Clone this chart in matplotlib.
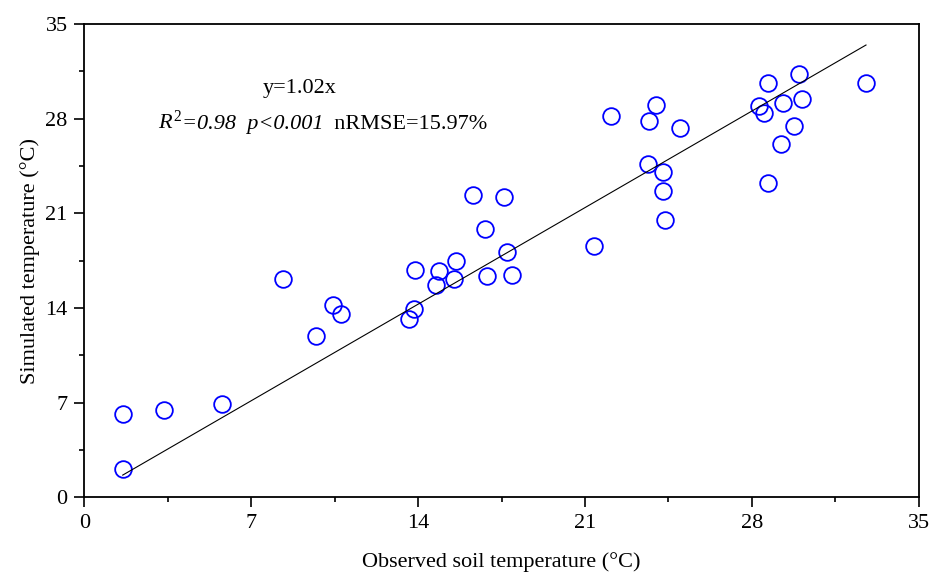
import matplotlib
matplotlib.use("Agg")
import matplotlib.pyplot as plt
import numpy as np
from matplotlib.ticker import MultipleLocator

plt.rcParams['font.family'] = ['Liberation Serif', 'DejaVu Serif']
plt.rcParams['mathtext.fontset'] = 'custom'
plt.rcParams['mathtext.rm'] = 'Liberation Serif'
plt.rcParams['mathtext.it'] = 'Liberation Serif:italic'

observed = [1.61, 1.61, 3.34, 5.76,
            8.35, 10.43, 10.76, 9.73,
            16.32, 17.59, 16.82, 17.73, 15.59, 13.88, 14.87, 15.49, 14.74,
            16.89, 17.95, 13.83, 13.63,
            22.09, 23.99, 23.69, 24.98, 23.66, 24.29, 24.29, 24.36, 21.38,
            28.69, 29.98, 32.79, 28.30, 28.50, 29.30, 30.09, 29.78, 29.24, 28.69]
simulated = [6.17, 2.07, 6.48, 6.88,
             16.14, 14.23, 13.52, 11.92,
             22.32, 22.23, 19.84, 18.13, 17.51, 16.82, 16.75, 16.14, 15.69,
             16.33, 16.43, 13.94, 13.18,
             28.22, 29.04, 27.85, 27.31, 24.62, 24.03, 22.62, 20.53, 18.55,
             30.64, 31.33, 30.64, 28.91, 28.42, 29.16, 29.46, 27.43, 26.13, 23.24]
slope = 1.02
ticks = [0, 7, 14, 21, 28, 35]

fig = plt.figure(figsize=(9.34, 5.74), dpi=100)
ax = fig.add_axes([0.0903, 0.1336, 0.8933, 0.8246])

ax.plot(observed, simulated, linestyle='none', marker='o', markersize=12,
        markerfacecolor='none', markeredgecolor='#0000ff', markeredgewidth=1.3)
xl = np.array([min(observed), max(observed)])
ax.plot(xl, slope * xl, color='black', linewidth=0.8)

ax.set_xlim(0, 35)
ax.set_ylim(0, 35)
ax.set_xticks(ticks)
ax.set_yticks(ticks)
ax.xaxis.set_minor_locator(MultipleLocator(3.5))
ax.yaxis.set_minor_locator(MultipleLocator(3.5))
ax.tick_params(which='major', direction='out', length=7, width=1.2, labelsize=16, pad=5)
ax.tick_params(which='minor', direction='out', length=3.6, width=1.2)
ax.tick_params(top=False, right=False, which='both')
for s in ax.spines.values():
    s.set_linewidth(1.3)

ax.set_xlabel('Observed soil temperature (°C)', fontsize=16, labelpad=14)
ax.set_ylabel('Simulated temperature (°C)', fontsize=16, labelpad=4)

ax.text(0.2585, 0.854, 'y=1.02x', transform=ax.transAxes, fontsize=16,
        ha='center', va='baseline')
yb = 0.778
t1 = ax.text(0.0883, yb, r'$R^{2}$', transform=ax.transAxes, fontsize=16,
             ha='left', va='baseline')
t2 = ax.annotate('=0.98  p<0.001', xy=(1.0, yb), xycoords=(t1, ax.transAxes),
                 fontsize=16, fontstyle='italic', ha='left', va='baseline')
t3 = ax.annotate('  nRMSE=15.97%', xy=(1.0, yb), xycoords=(t2, ax.transAxes),
                 fontsize=16, ha='left', va='baseline')

fig.savefig('out.png', dpi=100)
